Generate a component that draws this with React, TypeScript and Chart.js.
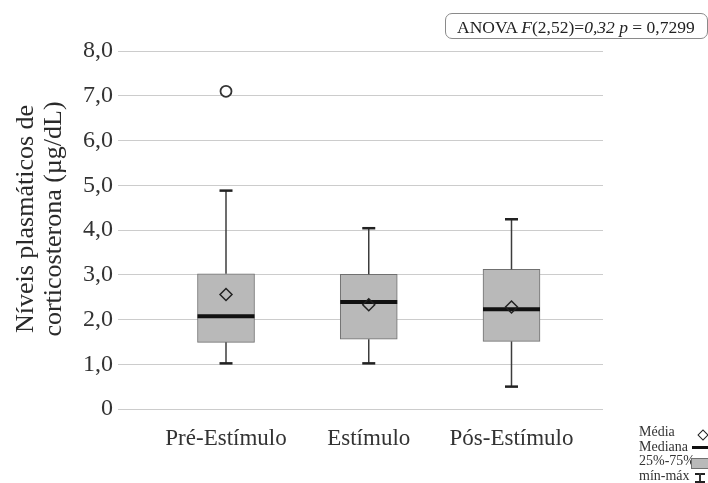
import React, { useEffect, useRef } from 'react';
import { Chart, registerables } from 'chart.js';

Chart.register(...registerables);

// ---- data ----
const categories = ['Pré-Estímulo', 'Estímulo', 'Pós-Estímulo'];
const minimums = [1.02, 1.02, 0.5];
const quartile1 = [1.49, 1.56, 1.51];
const medians = [2.07, 2.39, 2.23];
const quartile3 = [3.02, 3.01, 3.12];
const maximums = [4.88, 4.04, 4.24];
const means = [2.56, 2.33, 2.28];
const outlierCategories = [0];
const outlierValues = [7.1];
const yTickValues = [0, 1, 2, 3, 4, 5, 6, 7, 8];
const yTitleLines = ['Níveis plasmáticos de', 'corticosterona (µg/dL)'];
const anovaParts = ['ANOVA ', 'F', '(2,52)=', '0,32 p', ' = 0,7299'];
const legendLabels = ['Média', 'Mediana', '25%-75%', 'mín-máx'];

const SERIF = '"Liberation Serif", "DejaVu Serif", serif';
const TEXT = '#333333';

const boxWhiskerPlugin = {
  id: 'boxWhisker',
  afterDatasetDraw(chart: any, args: any) {
    if (args.index !== 0) return;
    const { ctx } = chart;
    const y = chart.scales.y;
    const meta = chart.getDatasetMeta(0);
    ctx.save();
    categories.forEach((_, i) => {
      const el = meta.data[i];
      if (!el) return;
      const cx = el.x;
      const half = el.width / 2;
      const seg = (x1: number, y1: number, x2: number, y2: number) => {
        ctx.beginPath();
        ctx.moveTo(x1, y1);
        ctx.lineTo(x2, y2);
        ctx.stroke();
      };
      ctx.lineCap = 'butt';
      ctx.strokeStyle = '#3c3c3c';
      ctx.lineWidth = 1.5;
      seg(cx, y.getPixelForValue(quartile3[i]), cx, y.getPixelForValue(maximums[i]));
      seg(cx, y.getPixelForValue(quartile1[i]), cx, y.getPixelForValue(minimums[i]));
      ctx.strokeStyle = '#222222';
      ctx.lineWidth = 2.5;
      seg(cx - 6.5, y.getPixelForValue(maximums[i]), cx + 6.5, y.getPixelForValue(maximums[i]));
      seg(cx - 6.5, y.getPixelForValue(minimums[i]), cx + 6.5, y.getPixelForValue(minimums[i]));
      ctx.strokeStyle = '#111111';
      ctx.lineWidth = 4;
      seg(cx - half, y.getPixelForValue(medians[i]), cx + half, y.getPixelForValue(medians[i]));
    });
    ctx.restore();
  },
};

const yTitlePlugin = {
  id: 'yTitle',
  afterDraw(chart: any) {
    const { ctx } = chart;
    ctx.save();
    ctx.translate(26, 219);
    ctx.rotate(-Math.PI / 2);
    ctx.font = `26px ${SERIF}`;
    ctx.fillStyle = '#2a2a2a';
    ctx.textAlign = 'center';
    ctx.textBaseline = 'middle';
    yTitleLines.forEach((line, k) => ctx.fillText(line, 0, k * 28.6));
    ctx.restore();
  },
};

export default function App() {
  const canvasRef = useRef<HTMLCanvasElement>(null);

  useEffect(() => {
    const boxData = categories.map((_, i) => ({ x: i, y: [quartile1[i], quartile3[i]] }));
    const meanData = categories.map((_, i) => ({ x: i, y: means[i] }));
    const outlierData = outlierCategories.map((c, k) => ({ x: c, y: outlierValues[k] }));

    const chart = new Chart(canvasRef.current as HTMLCanvasElement, {
      type: 'bar',
      data: {
        datasets: [
          {
            type: 'bar',
            order: 3,
            data: boxData as any,
            backgroundColor: '#b9b9b9',
            borderColor: '#707070',
            borderWidth: 1,
            borderSkipped: false,
            barThickness: 57,
          } as any,
          {
            type: 'scatter',
            order: 1,
            data: meanData,
            pointStyle: 'rectRot',
            pointRadius: 6,
            backgroundColor: 'rgba(0,0,0,0)',
            borderColor: '#222222',
            borderWidth: 1.5,
          } as any,
          {
            type: 'scatter',
            order: 2,
            data: outlierData,
            pointStyle: 'circle',
            pointRadius: 5.5,
            backgroundColor: '#ffffff',
            borderColor: '#333333',
            borderWidth: 1.8,
          } as any,
        ],
      },
      options: {
        responsive: false,
        animation: false,
        devicePixelRatio: 1,
        layout: { padding: { left: 0, right: 105, top: 51, bottom: 0 } },
        plugins: { legend: { display: false }, tooltip: { enabled: false } },
        scales: {
          x: {
            type: 'linear',
            offset: false,
            min: -0.7566,
            max: 2.641,
            grid: { display: false, offset: false },
            border: { display: false },
            afterFit: (s: any) => { s.height = 74; },
            afterBuildTicks: (s: any) => { s.ticks = categories.map((_, i) => ({ value: i })); },
            ticks: {
              padding: 8,
              color: TEXT,
              font: { family: SERIF, size: 23 },
              callback: (v: any) => categories[Number(v)] ?? '',
            },
          },
          y: {
            min: 0,
            max: 8,
            afterFit: (s: any) => { s.width = 118; },
            afterBuildTicks: (s: any) => { s.ticks = yTickValues.map((v) => ({ value: v })); },
            grid: { color: '#cccccc', lineWidth: 1, drawTicks: false },
            border: { display: false },
            ticks: {
              padding: 5,
              color: TEXT,
              font: { family: SERIF, size: 24 },
              callback: (v: any) => (Number(v) === 0 ? '0' : Number(v).toFixed(1).replace('.', ',')),
            },
          },
        },
      } as any,
      plugins: [boxWhiskerPlugin, yTitlePlugin],
    });
    return () => chart.destroy();
  }, []);

  const legendTop = 425;
  const rowH = 14.7;

  return (
    <div style={{ position: 'absolute', left: 0, top: 0, width: 708, height: 483, overflow: 'hidden', background: '#fff' }}>
      <canvas ref={canvasRef} width={708} height={483} style={{ position: 'absolute', left: 0, top: 0, width: 708, height: 483 }} />
      <div
        style={{
          position: 'absolute', left: 445, top: 13, width: 263, height: 26, boxSizing: 'border-box',
          border: '1px solid #8a8a8a', borderRadius: 7, paddingLeft: 11, paddingTop: 2,
          font: `17.5px ${SERIF}`, lineHeight: '22px', color: '#222', whiteSpace: 'nowrap',
        }}
      >
        {anovaParts[0]}<i>{anovaParts[1]}</i>{anovaParts[2]}<i>{anovaParts[3]}</i>{anovaParts[4]}
      </div>
      <div style={{ position: 'absolute', left: 639, top: legendTop, font: `14px ${SERIF}`, lineHeight: `${rowH}px`, color: TEXT, whiteSpace: 'nowrap' }}>
        {legendLabels.map((l) => (<div key={l}>{l}</div>))}
      </div>
      {/* legend symbols */}
      <div style={{ position: 'absolute', left: 698.5, top: 430.5, width: 6, height: 6, border: '1.3px solid #222', transform: 'rotate(45deg)' }} />
      <div style={{ position: 'absolute', left: 692, top: 446, width: 16, height: 2.5, background: '#111' }} />
      <div style={{ position: 'absolute', left: 690.5, top: 457.5, width: 16, height: 9, background: '#b9b9b9', border: '1px solid #707070' }} />
      <div style={{ position: 'absolute', left: 695, top: 473, width: 10, height: 1.6, background: '#222' }} />
      <div style={{ position: 'absolute', left: 699.4, top: 473, width: 1.2, height: 9, background: '#333' }} />
      <div style={{ position: 'absolute', left: 695, top: 481, width: 10, height: 1.6, background: '#222' }} />
    </div>
  );
}
